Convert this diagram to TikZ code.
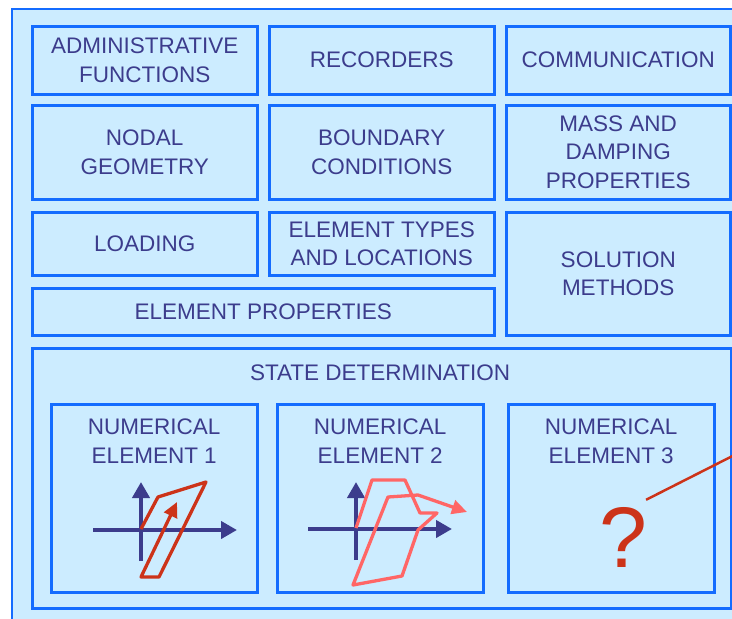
\documentclass[tikz,border=0pt]{standalone}
\usepackage{fontspec}
\setmainfont{Liberation Sans}
\usetikzlibrary{arrows.meta,positioning}

\definecolor{panelfill}{RGB}{204,236,255}
\definecolor{panelline}{RGB}{20,108,255}
\definecolor{labeltext}{RGB}{60,60,140}
\definecolor{loopred}{RGB}{204,51,25}
\definecolor{looppink}{RGB}{255,102,102}

\begin{document}
\begin{tikzpicture}[
  x=1pt, y=-1pt,
  font=\fontsize{22.5}{28.5}\selectfont,
  box/.style={draw=panelline, fill=panelfill, line width=2.5pt, text=labeltext,
    align=center, inner sep=0pt, anchor=north west},
  caption/.style={text=labeltext, align=center, inner sep=0pt},
  axis/.style={draw=labeltext, line width=4pt, -{Triangle[width=17pt,length=16pt]}},
  loopa/.style={draw=loopred, line width=3.3pt, line join=round, -{Triangle[width=14pt,length=15pt]}},
  loopb/.style={draw=looppink, line width=3.3pt, line join=round, -{Triangle[width=14pt,length=15pt]}}
]
\useasboundingbox (0,0) rectangle (732,619);
\clip (0,0) rectangle (732,619);
\fill[white] (0,0) rectangle (732,619);

% outer panel
\draw[draw=panelline, fill=panelfill, line width=2.5pt] (12,9) rectangle (760,640);

% model blocks
\node[box, minimum width=225pt, minimum height=68pt] (admin) at (31,25) {ADMINISTRATIVE\\FUNCTIONS};
\node[box, minimum width=225pt, minimum height=68pt] (recorders) at (268,25) {RECORDERS};
\node[box, minimum width=224pt, minimum height=68pt] (comm) at (505,25) {COMMUNICATION};
\node[box, minimum width=225pt, minimum height=94pt] (nodal) at (31,104) {NODAL\\GEOMETRY};
\node[box, minimum width=225pt, minimum height=94pt] (boundary) at (268,104) {BOUNDARY\\CONDITIONS};
\node[box, minimum width=224pt, minimum height=94pt] (mass) at (505,104) {MASS AND\\DAMPING\\PROPERTIES};
\node[box, minimum width=225pt, minimum height=63pt] (loading) at (31,211) {LOADING};
\node[box, minimum width=225pt, minimum height=63pt] (eltypes) at (268,211) {ELEMENT TYPES\\AND LOCATIONS};
\node[box, minimum width=224pt, minimum height=123pt] (solution) at (505,211) {SOLUTION\\METHODS};
\node[box, minimum width=462pt, minimum height=47pt] (elprops) at (31,287) {ELEMENT PROPERTIES};

% state determination
\node[box, minimum width=699pt, minimum height=260pt] (statedet) at (31,347) {};
\node[caption] (statetitle) at (380,373) {STATE DETERMINATION};
\node[box, minimum width=206pt, minimum height=188pt] (ne1) at (50,403) {};
\node[box, minimum width=206pt, minimum height=188pt] (ne2) at (276,403) {};
\node[box, minimum width=206pt, minimum height=188pt] (ne3) at (507,403) {};
\node[caption, below=16pt of ne1.north] (ne1title) {NUMERICAL\\ELEMENT 1};
\node[caption, below=16pt of ne2.north] (ne2title) {NUMERICAL\\ELEMENT 2};
\node[caption, below=16pt of ne3.north] (ne3title) {NUMERICAL\\ELEMENT 3};

% element 1 response
\draw[axis] (93,530) -- (237,530);
\draw[axis] (141,561) -- (141,482);
\draw[loopa] (141,529) -- (158,497) -- (206,482) -- (159,577) -- (141,577) -- (177,502);

% element 2 response
\draw[axis] (308,529) -- (452,529);
\draw[axis] (356,560) -- (356,482);
\draw[loopb] (356,528) -- (372,480) -- (405,480) -- (420,513) -- (437,513) -- (418,530)
  -- (402,576) -- (353,585) -- (388,497) -- (418,495) -- (467,512);

% element 3 unknown
\node[text=loopred, inner sep=0pt, font=\fontsize{86}{86}\selectfont] (qmark) at (623,537) {?};
\coordinate (callend) at (770,437);
\draw[loopred, line width=2.5pt] ([xshift=-1pt,yshift=7pt]qmark.north east) -- (callend);
\end{tikzpicture}
\end{document}
